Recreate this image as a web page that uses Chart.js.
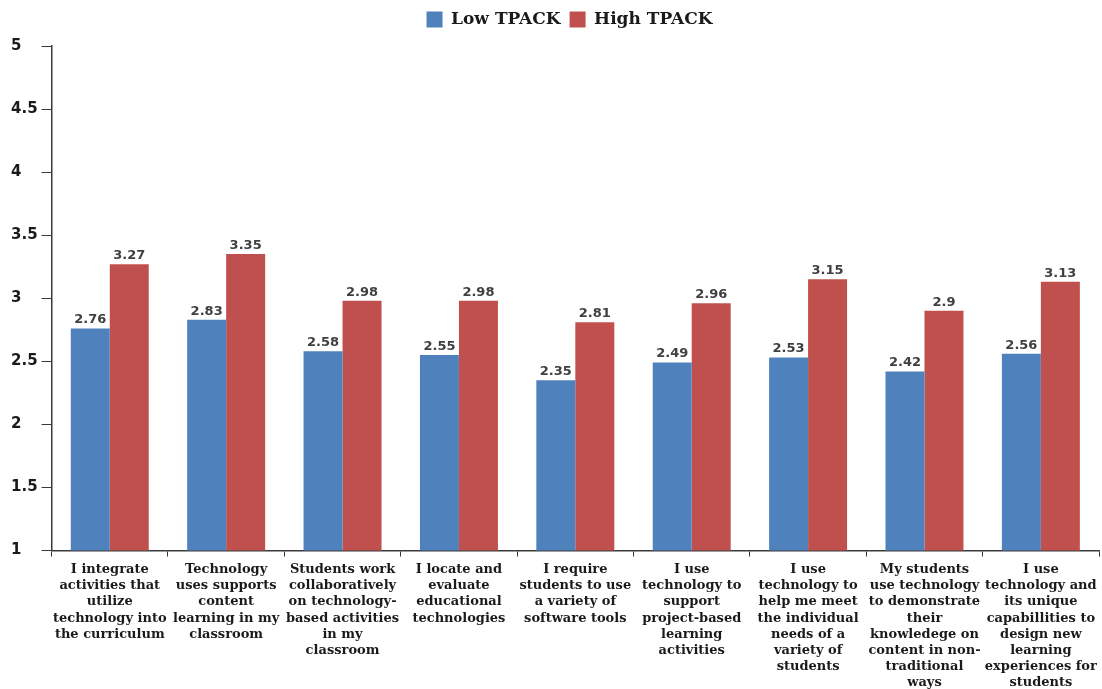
<!DOCTYPE html>
<html><head><meta charset="utf-8">
<script src="https://cdn.jsdelivr.net/npm/chart.js@4/dist/chart.umd.min.js"></script>
<style>html,body{margin:0;padding:0;background:#fff}#wrap{width:1102px;height:689px}</style>
</head><body><div id="wrap"><canvas id="c"></canvas></div>
<script>
const categories = [
  ["I integrate","activities that","utilize","technology into","the curriculum"],
  ["Technology","uses supports","content","learning in my","classroom"],
  ["Students work","collaboratively","on technology-","based activities","in my","classroom"],
  ["I locate and","evaluate","educational","technologies"],
  ["I require","students to use","a variety of","software tools"],
  ["I use","technology to","support","project-based","learning","activities"],
  ["I use","technology to","help me meet","the individual","needs of a","variety of","students"],
  ["My students","use technology","to demonstrate","their","knowledege on","content in non-","traditional","ways"],
  ["I use","technology and","its unique","capabillities to","design new","learning","experiences for","students"]
];
const seriesNames = ["Low TPACK", "High TPACK"];
const lowTPACK = [2.76, 2.83, 2.58, 2.55, 2.35, 2.49, 2.53, 2.42, 2.56];
const highTPACK = [3.27, 3.35, 2.98, 2.98, 2.81, 2.96, 3.15, 2.9, 3.13];
const yTicks = [1, 1.5, 2, 2.5, 3, 3.5, 4, 4.5, 5];

const valueLabels = {
  id: 'valueLabels',
  afterDatasetsDraw(chart) {
    const ctx = chart.ctx;
    ctx.save();
    ctx.font = 'bold 13px "DejaVu Sans"';
    ctx.fillStyle = '#404040';
    ctx.textAlign = 'center';
    ctx.textBaseline = 'bottom';
    chart.data.datasets.forEach((ds, i) => {
      chart.getDatasetMeta(i).data.forEach((bar, j) => {
        ctx.fillText(String(ds.data[j]), bar.x, bar.y - 2);
      });
    });
    ctx.restore();
  }
};

const legendTweak = {
  id: 'legendTweak',
  beforeInit(chart) {
    const lg = chart.legend;
    const orig = lg.fit;
    lg.fit = function() { orig.call(this); this.height += 8; };
  },
  afterLayout(chart) {
    chart.legend.left += 14;
    chart.legend.right += 14;
  }
};

new Chart(document.getElementById('c'), {
  type: 'bar',
  data: {
    labels: categories,
    datasets: [
      {label: seriesNames[0], data: lowTPACK, backgroundColor: '#4F81BD', borderWidth: 0},
      {label: seriesNames[1], data: highTPACK, backgroundColor: '#C0504D', borderWidth: 0}
    ]
  },
  options: {
    responsive: true,
    maintainAspectRatio: false,
    animation: false,
    datasets: {bar: {categoryPercentage: 0.67, barPercentage: 1}},
    layout: {padding: {left: 11, right: 2, top: 2, bottom: -7}},
    plugins: {
      legend: {
        position: 'top',
        labels: {
          font: {family: '"DejaVu Serif"', size: 17, weight: 'bold'},
          color: '#1a1a1a',
          boxWidth: 16, boxHeight: 16, padding: 9
        }
      },
      tooltip: {enabled: false}
    },
    scales: {
      x: {
        grid: {display: true, drawOnChartArea: false, offset: true, tickLength: 6, color: '#3a3a3a', tickColor: '#3a3a3a'},
        border: {display: true, color: '#3a3a3a', width: 1.5},
        ticks: {
          autoSkip: false, maxRotation: 0, minRotation: 0,
          font: {family: '"DejaVu Serif"', size: 13, weight: 'bold', lineHeight: 1.245},
          color: '#1a1a1a', padding: 5
        }
      },
      y: {
        min: 1, max: 5,
        afterBuildTicks(axis) { axis.ticks = yTicks.map(v => ({value: v})); },
        grid: {display: true, drawOnChartArea: false, tickLength: 10, color: '#3a3a3a', tickColor: '#3a3a3a'},
        border: {display: true, color: '#3a3a3a', width: 1.5},
        ticks: {
          crossAlign: 'far',
          callback: v => String(v),
          font: {family: '"DejaVu Sans"', size: 15, weight: 'bold'},
          color: '#1a1a1a', padding: 2
        }
      }
    }
  },
  plugins: [valueLabels, legendTweak]
});
</script></body></html>
